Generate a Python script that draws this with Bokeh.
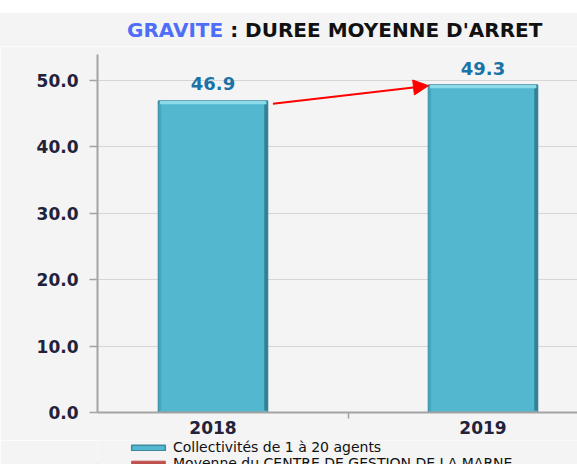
from bokeh.plotting import figure
from bokeh.layouts import column
from bokeh.models import (ColumnDataSource, FixedTicker, LabelSet, Legend, Div,
                          LegendItem, Arrow, NormalHead, PrintfTickFormatter, Range1d)
from bokeh.core.properties import value
from bokeh.embed import file_html
from bokeh.resources import INLINE

# ---- data ----
years = ["2018", "2019"]
duree = [46.9, 49.3]
y_ticks = [0, 10, 20, 30, 40, 50]
series_names = ["Collectivités de 1 à 20 agents",
                "Moyenne du CENTRE DE GESTION DE LA MARNE"]
title_part1 = "GRAVITE"
title_part2 = " : DUREE MOYENNE D'ARRET"

# ---- styling ----
BG = "#f4f4f4"
BAR_W = 0.404
FONT = "DejaVu Sans"
W = 577
BAR_FILL = "#52b7cf"
BAR_LINE = "#3b8a9e"
AVG_COLOR = "#c0504d"

# ---- title (two colours) ----
title = Div(
    text=f'<span style="color:#4f6ef7">{title_part1}</span>'
         f'<span style="color:#111111">{title_part2}</span>',
    width=W, height=46,
    styles={"background": f"linear-gradient(#ffffff 0px, #ffffff 13px, {BG} 13px)",
            "font-family": FONT, "font-weight": "bold", "font-size": "20px",
            "line-height": "60px", "padding-left": "127px", "white-space": "nowrap",
            "margin": "0"})

xs = list(range(len(years)))
src = ColumnDataSource(dict(
    x=xs,
    top=duree,
    bev_bot=[v - 0.5 for v in duree],
    shade_top=[v - 0.5 for v in duree],
    xr=[x + BAR_W / 2 - 0.006 for x in xs],
    xl=[x - BAR_W / 2 + 0.005 for x in xs],
    lbl=[f"{v:.1f}" for v in duree],
))

p = figure(width=W, height=394, output_backend="svg", toolbar_location=None,
           x_range=Range1d(-0.4278, 1.35), y_range=Range1d(0, 53.9),
           min_border_left=97, min_border_right=0, min_border_top=8,
           min_border_bottom=28, background_fill_color=BG, border_fill_color=BG)
p.outline_line_color = None

# grid
p.xgrid.visible = False
p.ygrid.ticker = FixedTicker(ticks=y_ticks)
p.ygrid.grid_line_color = "#d6d6d6"
p.ygrid.grid_line_width = 1

# y axis
p.yaxis.ticker = FixedTicker(ticks=y_ticks)
p.yaxis.formatter = PrintfTickFormatter(format="%.1f")
p.yaxis.major_tick_out = 8
p.yaxis.major_tick_in = 0
p.yaxis.minor_tick_line_color = None
p.yaxis.axis_line_color = "#a3a3a3"
p.yaxis.axis_line_width = 2
p.yaxis.major_tick_line_color = "#a3a3a3"
p.yaxis.major_tick_line_width = 1.5
p.yaxis.major_label_standoff = 11
p.yaxis.major_label_text_font = FONT
p.yaxis.major_label_text_font_style = "bold"
p.yaxis.major_label_text_font_size = "17px"
p.yaxis.major_label_text_color = "#22223a"

# x axis
p.xaxis.ticker = FixedTicker(ticks=xs, minor_ticks=[0.5])
p.xaxis.major_label_overrides = {i: y for i, y in zip(xs, years)}
p.xaxis.major_tick_out = 0
p.xaxis.major_tick_in = 0
p.xaxis.minor_tick_out = 6
p.xaxis.minor_tick_in = 0
p.xaxis.minor_tick_line_color = "#a3a3a3"
p.xaxis.minor_tick_line_width = 1.5
p.xaxis.axis_line_color = "#a3a3a3"
p.xaxis.axis_line_width = 2
p.xaxis.major_label_standoff = 2
p.xaxis.major_label_text_font = FONT
p.xaxis.major_label_text_font_style = "bold"
p.xaxis.major_label_text_font_size = "17px"
p.xaxis.major_label_text_color = "#22223a"

# bars (3D-ish)
p.vbar(x="x", top="top", bottom=0, width=BAR_W, source=src,
       fill_color=BAR_FILL, line_color=BAR_LINE, line_width=1.5)
p.vbar(x="xl", top="shade_top", bottom=0.3, width=0.01, source=src,
       fill_color="#46a6bd", line_color=None)
p.vbar(x="xr", top="shade_top", bottom=0.3, width=0.012, source=src,
       fill_color="#357f92", line_color=None)
p.vbar(x="x", top="top", bottom="bev_bot", width=BAR_W - 0.012, source=src,
       fill_color="#8cdbe9", line_color=None)

# value labels
p.add_layout(LabelSet(x="x", y="top", text="lbl", source=src, y_offset=17,
                      text_align="center", text_baseline="middle",
                      text_font=value(FONT), text_font_style="bold",
                      text_font_size="18px", text_color="#1b72a6"))

# red arrow
p.add_layout(Arrow(end=NormalHead(size=15, fill_color="#ff0000", line_color="#ff0000"),
                   x_start=xs[0] + BAR_W / 2 + 0.02, y_start=duree[0] - 0.4,
                   x_end=xs[1] - BAR_W / 2, y_end=duree[1] - 0.1,
                   line_color="#ff0000", line_width=2))

# ---- legend strip (own small figure; proxy renderers kept outside its view) ----
lg = figure(width=W, height=24, output_backend="svg", toolbar_location=None,
            x_axis_type=None, y_axis_type=None, min_border=0,
            x_range=Range1d(100, 101), y_range=Range1d(100, 101),
            background_fill_color=BG, border_fill_color=BG)
lg.outline_line_color = None
lg.grid.visible = False
r1 = lg.vbar(x="x", top="top", width=BAR_W, source=src,
             fill_color=BAR_FILL, line_color=BAR_LINE, line_width=1.5)
r2 = lg.vbar(x="x", top="top", width=BAR_W, source=src,
             fill_color=AVG_COLOR, line_color=AVG_COLOR)
legend = Legend(items=[LegendItem(label=series_names[0], renderers=[r1]),
                       LegendItem(label=series_names[1], renderers=[r2])],
                location=(30, -7), orientation="vertical",
                padding=0, margin=0, spacing=0, glyph_width=42, glyph_height=7,
                label_standoff=4, label_height=14,
                label_text_font=FONT, label_text_font_size="14px",
                label_text_color="#111111",
                background_fill_alpha=0, border_line_alpha=0)
lg.add_layout(legend)

layout = column(title, p, lg, spacing=0)
open("out.html", "w").write(file_html(layout, INLINE))
